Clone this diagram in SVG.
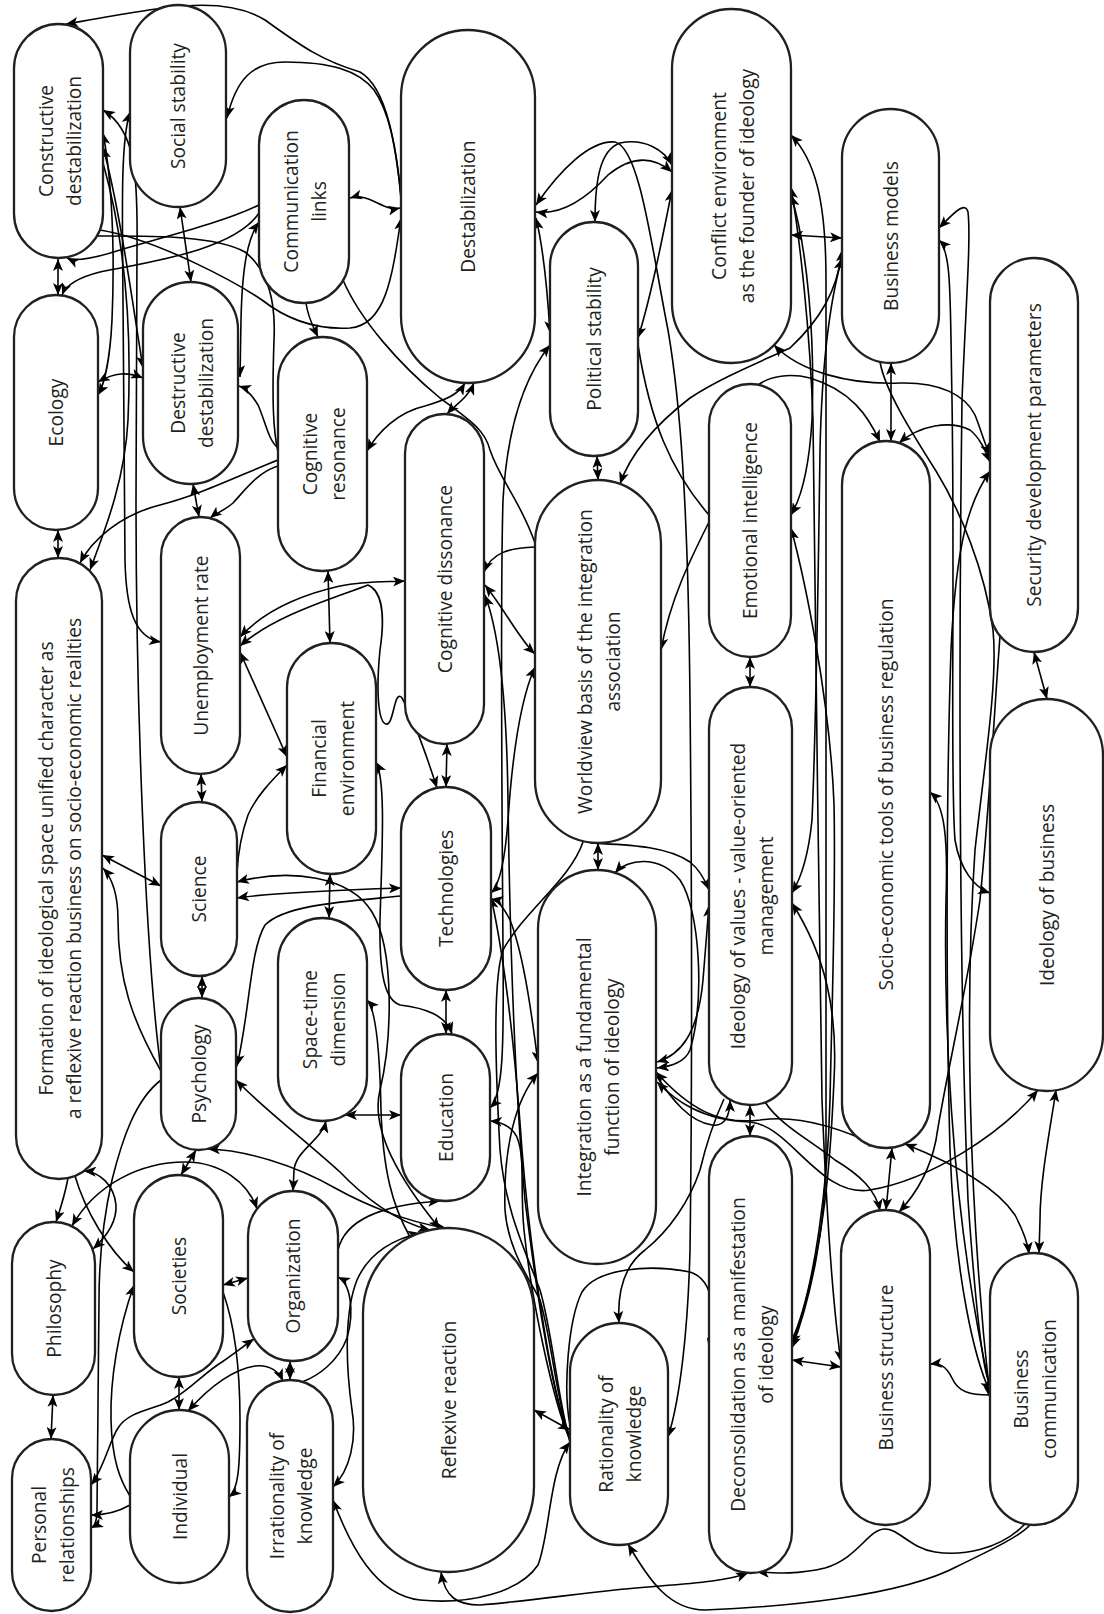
<svg xmlns="http://www.w3.org/2000/svg" width="1104" height="1614" viewBox="0 0 1104 1614">
<style>
.n rect{fill:#fff;stroke:#231f20;stroke-width:2.3}
.n text{font-family:"Open Sans","Liberation Sans",sans-serif;font-size:19.2px;fill:#231f20;text-anchor:middle}
#connectors path{fill:none;stroke:#000;stroke-width:1.6}
#connectors .b{marker-start:url(#ah);marker-end:url(#ah)}
#connectors .s{marker-start:url(#ah)}
#connectors .e{marker-end:url(#ah)}
</style>
<defs>
<marker id="ah" viewBox="0 0 12 10" refX="12" refY="5" markerWidth="12" markerHeight="10" markerUnits="userSpaceOnUse" orient="auto-start-reverse"><path d="M0,0 L12,5 L0,10 L3,5 z" fill="#000" stroke="none"/></marker>
</defs>
<rect width="1104" height="1614" fill="#fff"/>
<g id="connectors">
<path class="b" d="M350,198 C370,192 382,212 400,208"/>
<path class="s" d="M66,24 C150,10 220,-8 265,20 C300,45 320,60 360,72 C388,88 396,150 401,196"/>
<path class="s" d="M227,118 C236,80 252,62 285,62 C330,62 358,70 374,90 C392,115 398,160 401,199"/>
<path class="s" d="M401,218 C392,280 385,325 350,328 C315,330 285,318 262,300 C240,285 160,240 100,230"/>
<path class="b" d="M58,259 L58,295"/>
<path class="b" d="M180,207 L191,282"/>
<path class="e" d="M259,205 C225,222 160,238 120,250 C95,258 75,262 67,258"/>
<path class="e" d="M259,213 C235,250 150,262 100,272 C80,277 66,285 62,295"/>
<path class="b" d="M259,222 C246,240 242,275 241,320 L240,377"/>
<path class="e" d="M306,303 C308,318 313,326 318,337"/>
<path class="s" d="M103,110 C135,130 138,170 137,250 L136,500 C136,700 145,950 161,1070"/>
<path class="b" d="M130,112 C121,140 122,200 123,300 L125,560 C126,610 135,638 161,642"/>
<path class="b" d="M103,133 C112,180 115,250 112,320 C110,360 104,385 98,395"/>
<path class="b" d="M103,147 C120,210 132,300 143,368"/>
<path class="e" d="M103,163 C125,240 132,330 128,420 C125,480 105,530 90,570"/>
<path class="b" d="M98,382 C115,372 128,372 143,378"/>
<path class="e" d="M278,460 C240,475 200,495 160,505 C120,515 92,540 80,563"/>
<path class="e" d="M278,466 C258,472 245,490 233,503 C225,510 215,514 210,518"/>
<path class="b" d="M58,530 L58,558"/>
<path class="b" d="M193,484 L199,517"/>
<path class="e" d="M278,448 C268,440 265,420 258,405 C252,395 245,388 239,386"/>
<path d="M278,452 C273,430 272,400 274,340 C276,300 268,270 245,252 C215,235 150,236 97,236"/>
<path class="b" d="M240,637 C265,610 300,595 340,586 C365,581 385,582 405,581"/>
<path class="b" d="M240,646 C275,615 335,598 368,585 C380,590 386,610 380,650 C376,690 378,722 386,724 C394,726 394,688 402,698 C414,720 428,760 437,788"/>
<path class="b" d="M328,571 L330,643"/>
<path class="b" d="M240,652 L287,757"/>
<path class="s" d="M287,765 C270,782 256,797 248,815 C241,835 238,855 237,872"/>
<path class="b" d="M201,774 L202,802"/>
<path class="b" d="M102,855 L161,886"/>
<path class="e" d="M161,1071 C132,1020 118,980 118,920 C118,895 112,878 103,868"/>
<path class="b" d="M202,976 L202,998"/>
<path class="b" d="M237,898 C270,893 340,890 401,888"/>
<path class="b" d="M237,882 C290,868 350,876 372,912 C395,950 392,1040 380,1090 C370,1130 400,1180 440,1229"/>
<path class="e" d="M401,896 C340,902 285,905 265,925 C250,950 250,1010 237,1066"/>
<path class="b" d="M236,1080 C265,1110 305,1140 340,1172 C362,1195 395,1222 430,1230"/>
<path class="b" d="M208,1149 C245,1150 295,1165 335,1188 C362,1203 405,1222 446,1228"/>
<path class="b" d="M330,874 L329,918"/>
<path class="b" d="M326,1121 C322,1140 296,1150 294,1170 L293,1191"/>
<path class="b" d="M345,1115 L401,1115"/>
<path class="b" d="M196,1150 L181,1175"/>
<path class="b" d="M72,1226 C95,1185 140,1162 185,1162 C220,1162 248,1182 257,1209"/>
<path class="e" d="M68,1178 C65,1195 60,1210 56,1222"/>
<path class="e" d="M75,1176 C85,1210 108,1250 134,1272"/>
<path class="b" d="M84,1171 C100,1172 114,1185 116,1205 C117,1222 105,1238 93,1249"/>
<path class="e" d="M161,1080 C135,1100 122,1140 112,1180 C103,1220 99,1260 99,1300 L97,1510 C97,1520 95,1526 91,1528"/>
<path class="b" d="M53,1395 L51,1439"/>
<path class="s" d="M134,1285 C118,1330 110,1380 111,1420 C112,1460 120,1480 130,1496"/>
<path class="e" d="M130,1505 C118,1512 105,1515 91,1515"/>
<path class="b" d="M91,1485 C103,1470 110,1440 118,1428 C128,1412 150,1410 168,1402 C188,1392 205,1372 222,1362 C235,1353 245,1345 254,1339"/>
<path class="b" d="M179,1377 L179,1410"/>
<path class="b" d="M188,1411 C205,1392 230,1370 255,1366 C270,1364 279,1372 283,1381"/>
<path class="b" d="M290,1361 L290,1380"/>
<path class="b" d="M223,1285 L248,1278"/>
<path class="e" d="M223,1292 C233,1320 240,1360 240,1420 C240,1470 238,1490 229,1497"/>
<path class="b" d="M420,1233 C390,1240 368,1255 357,1280 C345,1310 345,1360 352,1410 C357,1440 350,1470 333,1487"/>
<path class="s" d="M338,1277 C350,1283 355,1310 347,1338 C338,1362 318,1376 302,1382"/>
<path class="b" d="M333,1500 C350,1545 375,1595 420,1600 C470,1605 520,1592 538,1565 C550,1535 549,1470 570,1442"/>
<path class="b" d="M441,1572 C445,1598 458,1605 480,1605 C540,1600 600,1590 660,1586 C700,1583 730,1580 748,1573"/>
<path class="s" d="M628,1544 C650,1582 670,1610 705,1610 C780,1607 900,1597 958,1566 C995,1548 1020,1536 1030,1525"/>
<path class="e" d="M1025,1524 C1000,1550 962,1556 935,1552 C910,1548 898,1528 884,1529 C868,1530 858,1558 825,1568 C795,1575 775,1573 757,1572"/>
<path class="b" d="M534,1410 L570,1430"/>
<path class="e" d="M570,1425 C563,1390 568,1320 582,1292 C597,1268 650,1264 690,1272 C716,1280 716,1320 709,1350"/>
<path class="s" d="M619,1323 C617,1290 625,1265 645,1250 C670,1230 690,1200 700,1170 C706,1145 712,1125 724,1099"/>
<path class="b" d="M536,205 C560,170 590,140 615,142 C640,148 652,250 668,330 C680,400 688,500 690,700 C692,900 692,1100 690,1250 C688,1330 680,1400 668,1437"/>
<path class="s" d="M485,595 C502,640 507,720 508,800 C510,950 516,1100 525,1200 C535,1280 552,1400 570,1436"/>
<path class="s" d="M491,897 C505,960 515,1050 522,1150 C530,1250 552,1400 570,1438"/>
<path class="s" d="M490,1121 C505,1122 515,1130 518,1140 C525,1160 520,1190 524,1230 C530,1290 552,1400 570,1440"/>
<path d="M583,842 C570,880 525,910 503,950 C493,980 495,1060 500,1150 C505,1210 525,1250 540,1290 C552,1330 558,1400 570,1442"/>
<path class="b" d="M550,345 C522,380 507,430 503,500 C500,600 502,800 503,950 C504,1050 503,1095 490,1108"/>
<path class="b" d="M485,585 C505,610 520,640 535,654"/>
<path class="s" d="M484,572 C492,552 510,548 535,547"/>
<path class="b" d="M535,667 C520,700 512,760 508,820 C505,860 500,885 491,893"/>
<path class="b" d="M597,456 L598,480"/>
<path class="b" d="M620,484 C630,455 655,425 690,398 C720,378 760,362 790,348 C820,320 838,290 842,250"/>
<path class="e" d="M709,522 C690,560 670,600 661,650"/>
<path d="M638,345 C650,420 670,470 709,515"/>
<path class="b" d="M536,212 C560,215 585,200 608,175 C630,157 652,155 672,172"/>
<path class="b" d="M595,222 C595,180 600,150 620,143 C645,138 664,150 672,165"/>
<path class="b" d="M536,218 C545,255 548,300 550,333"/>
<path class="b" d="M638,338 C650,300 660,250 672,190"/>
<path class="b" d="M774,345 C800,372 850,385 900,383 C940,382 965,395 975,415 C981,430 985,445 990,455"/>
<path class="b" d="M791,135 C815,160 826,200 826,280 L826,1150 C826,1230 810,1300 792,1348"/>
<path class="b" d="M791,187 C800,240 810,330 813,420 C816,600 818,900 822,1100 C826,1200 832,1300 841,1362"/>
<path class="b" d="M791,195 C808,250 815,340 812,420 C809,470 800,500 791,515"/>
<path class="b" d="M791,235 L842,238"/>
<path class="s" d="M791,528 C805,580 830,700 834,804 C836,900 832,1000 830,1100 C828,1180 815,1290 792,1340"/>
<path class="b" d="M842,258 C830,300 822,360 820,450 C818,600 815,750 812,820 C808,860 800,880 792,893"/>
<path class="b" d="M792,903 C825,955 838,1010 834,1080 C831,1150 826,1250 792,1345"/>
<path class="b" d="M750,1105 L750,1136"/>
<path class="b" d="M892,1148 L886,1210"/>
<path class="b" d="M656,1072 C690,1110 720,1125 760,1120 C800,1114 845,1130 880,1147"/>
<path class="b" d="M905,1144 C950,1162 995,1185 1015,1215 C1024,1232 1028,1245 1029,1254"/>
<path class="b" d="M1056,1090 C1050,1130 1040,1180 1040,1220 L1039,1253"/>
<path class="b" d="M1038,1090 C1000,1135 930,1180 870,1190 C820,1198 790,1125 750,1122 C700,1120 675,1100 657,1082"/>
<path class="b" d="M939,240 C952,252 950,300 952,400 C955,600 950,780 955,840 C960,870 975,888 990,893"/>
<path class="s" d="M939,228 C952,215 965,200 968,212 C971,240 966,300 962,400 C958,700 960,1000 968,1200 C975,1300 982,1370 990,1385"/>
<path class="b" d="M891,441 L891,363"/>
<path class="b" d="M899,443 C920,425 950,420 970,430 C980,438 985,450 990,462"/>
<path class="s" d="M880,442 C868,415 850,390 810,378 C790,373 770,376 758,385"/>
<path class="b" d="M990,471 C970,500 956,540 951,650 C946,800 946,1000 950,1150 C955,1280 975,1360 990,1392"/>
<path class="e" d="M880,362 C885,390 910,430 936,471 C960,510 985,570 993,630 C998,680 985,760 975,850 C965,1000 968,1200 990,1398"/>
<path class="e" d="M990,1395 C970,1395 958,1392 952,1378 C946,1366 940,1363 930,1364"/>
<path class="b" d="M1034,652 L1047,699"/>
<path class="b" d="M750,657 L750,687"/>
<path class="b" d="M598,843 L598,870"/>
<path class="b" d="M615,873 C628,858 660,855 680,880 C700,910 705,1000 690,1050 C685,1062 672,1066 657,1068"/>
<path class="e" d="M590,843 C625,845 665,845 690,862 C700,870 705,880 709,890"/>
<path class="b" d="M657,1062 C680,1055 698,1035 703,980 C706,940 708,920 709,905"/>
<path class="e" d="M656,1075 C672,1100 690,1122 712,1125 C725,1127 730,1115 730,1100"/>
<path class="e" d="M765,1102 C780,1125 810,1140 835,1160 C860,1175 876,1190 880,1211"/>
<path class="e" d="M1000,636 C995,700 990,800 980,900 C965,1000 945,1080 936,1140 C930,1170 915,1195 899,1212"/>
<path class="s" d="M930,792 C945,805 948,840 946,900 C944,1000 948,1200 990,1388"/>
<path class="b" d="M447,744 L446,787"/>
<path class="b" d="M446,990 L446,1034"/>
<path class="b" d="M376,762 C386,780 382,850 380,920 C379,975 385,1000 400,1005 C425,1008 446,1015 452,1034"/>
<path class="s" d="M367,1000 C377,1010 380,1060 381,1110 C383,1170 392,1205 410,1237"/>
<path class="e" d="M338,1250 C345,1220 380,1205 440,1201"/>
<path class="b" d="M367,451 C378,432 398,412 425,406 C445,400 458,395 465,383"/>
<path class="b" d="M474,383 C468,398 455,405 447,414"/>
<path d="M343,280 C360,320 400,365 440,398 C470,420 485,430 490,450 C500,480 520,500 535,543"/>
<path class="b" d="M538,1063 C530,1000 522,950 510,920 C503,906 497,900 491,899"/>
<path class="s" d="M538,1073 C515,1100 503,1150 505,1210 C508,1250 530,1280 540,1300 C552,1340 556,1400 570,1439"/>
<path class="b" d="M792,1360 L841,1367"/>
</g>
<g id="nodes">
<g id="n-constructive" class="n"><rect x="14" y="24" width="89" height="234" rx="44.5"/><text transform="translate(58.5,141) rotate(-90)"><tspan x="0" y="-6">Constructive</tspan><tspan x="0" y="22">destabilization</tspan></text></g>
<g id="n-social-stability" class="n"><rect x="130" y="5" width="96" height="202" rx="48"/><text transform="translate(178,106) rotate(-90)" y="7">Social stability</text></g>
<g id="n-communication-links" class="n"><rect x="259" y="100" width="90" height="203" rx="45"/><text transform="translate(304,201.5) rotate(-90)"><tspan x="0" y="-6">Communication</tspan><tspan x="0" y="22">links</tspan></text></g>
<g id="n-destabilization" class="n"><rect x="401" y="30" width="134" height="353" rx="67"/><text transform="translate(468,206.5) rotate(-90)" y="7">Destabilization</text></g>
<g id="n-political-stability" class="n"><rect x="550" y="222" width="88" height="234" rx="44"/><text transform="translate(594,339) rotate(-90)" y="7">Political stability</text></g>
<g id="n-conflict" class="n"><rect x="672" y="9" width="119" height="354" rx="59.5"/><text transform="translate(731.5,186) rotate(-90)"><tspan x="0" y="-6">Conflict environment</tspan><tspan x="0" y="22">as the founder of ideology</tspan></text></g>
<g id="n-business-models" class="n"><rect x="842" y="109" width="97" height="254" rx="48.5"/><text transform="translate(890.5,236) rotate(-90)" y="7">Business models</text></g>
<g id="n-security" class="n"><rect x="990" y="258" width="88" height="394" rx="44"/><text transform="translate(1034,455) rotate(-90)" y="7">Security development parameters</text></g>
<g id="n-ecology" class="n"><rect x="14" y="295" width="84" height="235" rx="42"/><text transform="translate(56,412.5) rotate(-90)" y="7">Ecology</text></g>
<g id="n-destructive" class="n"><rect x="143" y="282" width="95" height="202" rx="47.5"/><text transform="translate(190.5,383) rotate(-90)"><tspan x="0" y="-6">Destructive</tspan><tspan x="0" y="22">destabilization</tspan></text></g>
<g id="n-cognitive-resonance" class="n"><rect x="278" y="337" width="89" height="234" rx="44.5"/><text transform="translate(322.5,454) rotate(-90)"><tspan x="0" y="-6">Cognitive</tspan><tspan x="0" y="22">resonance</tspan></text></g>
<g id="n-cognitive-dissonance" class="n"><rect x="405" y="414" width="79" height="330" rx="39.5"/><text transform="translate(444.5,579) rotate(-90)" y="7">Cognitive dissonance</text></g>
<g id="n-worldview" class="n"><rect x="535" y="480" width="126" height="363" rx="63"/><text transform="translate(598,661.5) rotate(-90)"><tspan x="0" y="-6">Worldview basis of the integration</tspan><tspan x="0" y="22">association</tspan></text></g>
<g id="n-emotional" class="n"><rect x="709" y="384" width="82" height="273" rx="41"/><text transform="translate(750,520.5) rotate(-90)" y="7">Emotional intelligence</text></g>
<g id="n-socio-economic" class="n"><rect x="842" y="441" width="88" height="707" rx="44"/><text transform="translate(886,794.5) rotate(-90)" y="7">Socio-economic tools of business regulation</text></g>
<g id="n-formation" class="n"><rect x="16" y="558" width="86" height="621" rx="43"/><text transform="translate(59,868.5) rotate(-90)"><tspan x="0" y="-6">Formation of ideological space unified character as</tspan><tspan x="0" y="22">a reflexive reaction business on socio-economic realities</tspan></text></g>
<g id="n-unemployment" class="n"><rect x="161" y="517" width="79" height="257" rx="39.5"/><text transform="translate(200.5,645.5) rotate(-90)" y="7">Unemployment rate</text></g>
<g id="n-financial" class="n"><rect x="287" y="643" width="89" height="231" rx="44.5"/><text transform="translate(331.5,758.5) rotate(-90)"><tspan x="0" y="-6">Financial</tspan><tspan x="0" y="22">environment</tspan></text></g>
<g id="n-technologies" class="n"><rect x="401" y="787" width="90" height="203" rx="45"/><text transform="translate(446,888.5) rotate(-90)" y="7">Technologies</text></g>
<g id="n-ideology-values" class="n"><rect x="709" y="687" width="83" height="418" rx="41.5"/><text transform="translate(750.5,896) rotate(-90)"><tspan x="0" y="-6">Ideology of values - value-oriented</tspan><tspan x="0" y="22">management</tspan></text></g>
<g id="n-ideology-business" class="n"><rect x="990" y="699" width="113" height="392" rx="56.5"/><text transform="translate(1046.5,895) rotate(-90)" y="7">Ideology of business</text></g>
<g id="n-science" class="n"><rect x="161" y="802" width="76" height="174" rx="38"/><text transform="translate(199,889) rotate(-90)" y="7">Science</text></g>
<g id="n-space-time" class="n"><rect x="278" y="918" width="89" height="203" rx="44.5"/><text transform="translate(322.5,1019.5) rotate(-90)"><tspan x="0" y="-6">Space-time</tspan><tspan x="0" y="22">dimension</tspan></text></g>
<g id="n-psychology" class="n"><rect x="161" y="998" width="75" height="152" rx="37.5"/><text transform="translate(198.5,1074) rotate(-90)" y="7">Psychology</text></g>
<g id="n-education" class="n"><rect x="401" y="1034" width="89" height="167" rx="44.5"/><text transform="translate(445.5,1117.5) rotate(-90)" y="7">Education</text></g>
<g id="n-integration" class="n"><rect x="538" y="870" width="118" height="394" rx="59"/><text transform="translate(597,1067) rotate(-90)"><tspan x="0" y="-6">Integration as a fundamental</tspan><tspan x="0" y="22">function of ideology</tspan></text></g>
<g id="n-philosophy" class="n"><rect x="12" y="1222" width="83" height="173" rx="41.5"/><text transform="translate(53.5,1308.5) rotate(-90)" y="7">Philosophy</text></g>
<g id="n-societies" class="n"><rect x="134" y="1175" width="89" height="202" rx="44.5"/><text transform="translate(178.5,1276) rotate(-90)" y="7">Societies</text></g>
<g id="n-organization" class="n"><rect x="248" y="1191" width="90" height="170" rx="45"/><text transform="translate(293,1276) rotate(-90)" y="7">Organization</text></g>
<g id="n-reflexive" class="n"><rect x="363" y="1228" width="171" height="344" rx="85.5"/><text transform="translate(448.5,1400) rotate(-90)" y="7">Reflexive reaction</text></g>
<g id="n-rationality" class="n"><rect x="570" y="1323" width="98" height="222" rx="49"/><text transform="translate(619,1434) rotate(-90)"><tspan x="0" y="-6">Rationality of</tspan><tspan x="0" y="22">knowledge</tspan></text></g>
<g id="n-deconsolidation" class="n"><rect x="709" y="1136" width="83" height="437" rx="41.5"/><text transform="translate(750.5,1354.5) rotate(-90)"><tspan x="0" y="-6">Deconsolidation as a manifestation</tspan><tspan x="0" y="22">of ideology</tspan></text></g>
<g id="n-business-structure" class="n"><rect x="841" y="1210" width="89" height="315" rx="44.5"/><text transform="translate(885.5,1367.5) rotate(-90)" y="7">Business structure</text></g>
<g id="n-business-communication" class="n"><rect x="990" y="1253" width="88" height="272" rx="44"/><text transform="translate(1034,1389) rotate(-90)"><tspan x="0" y="-6">Business</tspan><tspan x="0" y="22">communication</tspan></text></g>
<g id="n-personal" class="n"><rect x="12" y="1439" width="79" height="172" rx="39.5"/><text transform="translate(51.5,1525) rotate(-90)"><tspan x="0" y="-6">Personal</tspan><tspan x="0" y="22">relationships</tspan></text></g>
<g id="n-individual" class="n"><rect x="130" y="1410" width="99" height="173" rx="49.5"/><text transform="translate(179.5,1496.5) rotate(-90)" y="7">Individual</text></g>
<g id="n-irrationality" class="n"><rect x="247" y="1380" width="86" height="232" rx="43"/><text transform="translate(290,1496) rotate(-90)"><tspan x="0" y="-6">Irrationality of</tspan><tspan x="0" y="22">knowledge</tspan></text></g>
</g>
</svg>
